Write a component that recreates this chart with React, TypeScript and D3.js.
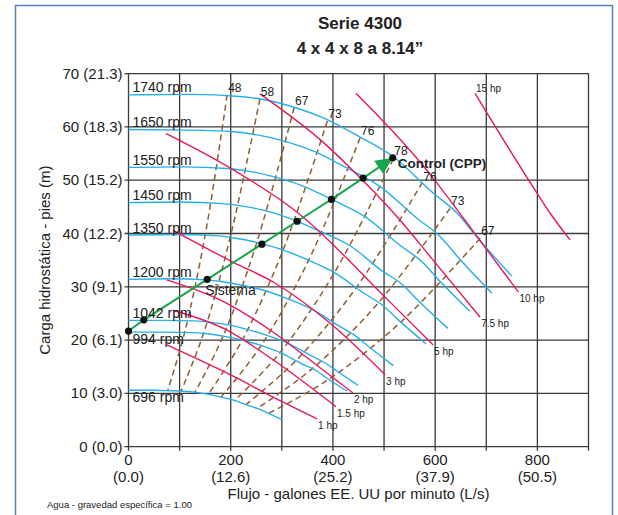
import React from 'react';
import * as d3 from 'd3';

// axis ticks
const flowTicks = [0, 200, 400, 600, 800];
const flowTicksLs = ['(0.0)', '(12.6)', '(25.2)', '(37.9)', '(50.5)'];
const flowGrid = [0, 100, 200, 300, 400, 500, 600, 700, 800, 900];
const headTicks = [0, 10, 20, 30, 40, 50, 60, 70];
const headTicksM = ['(0.0)', '(3.0)', '(6.1)', '(9.1)', '(12.2)', '(15.2)', '(18.3)', '(21.3)'];

// pump curves, [gpm, ft]
const rpm1740 = [[0, 66.0], [120, 66.1], [218, 65.7], [271, 65.0], [330, 63.5], [381, 61.7], [453, 58.1], [518, 54.4], [596, 47.6], [643, 43.8], [682, 39.3], [750, 32.0]];
const rpm1650 = [[0, 59.5], [114, 59.4], [207, 59.1], [257, 58.4], [313, 57.1], [361, 55.5], [429, 52.2], [491, 48.9], [565, 42.8], [610, 39.4], [647, 35.3], [711, 28.8]];
const rpm1550 = [[0, 52.4], [107, 52.5], [194, 52.2], [241, 51.6], [294, 50.4], [339, 49.0], [404, 46.1], [462, 43.2], [531, 37.8], [573, 34.8], [608, 31.2], [668, 25.4]];
const rpm1450 = [[0, 45.8], [100, 45.9], [182, 45.6], [226, 45.1], [275, 44.1], [317, 42.8], [377, 40.3], [432, 37.8], [496, 33.0], [536, 30.4], [568, 27.3], [625, 22.2]];
const rpm1350 = [[0, 39.7], [93, 39.8], [169, 39.6], [210, 39.1], [256, 38.2], [296, 37.1], [352, 35.0], [402, 32.7], [462, 28.7], [499, 26.4], [529, 23.7], [582, 19.3]];
const rpm1200 = [[0, 31.4], [83, 31.5], [150, 31.3], [187, 30.9], [228, 30.2], [263, 29.4], [313, 27.7], [357, 25.9], [411, 22.7], [444, 20.8], [471, 18.7], [518, 15.2]];
const rpm1042 = [[0, 23.7], [72, 23.7], [131, 23.6], [162, 23.3], [198, 22.8], [228, 22.1], [271, 20.9], [310, 19.5], [357, 17.1], [385, 15.7], [409, 14.1], [449, 11.5]];
const rpm994 = [[0, 21.5], [69, 21.5], [124, 21.4], [155, 21.2], [188, 20.7], [218, 20.1], [259, 19.0], [296, 17.7], [340, 15.5], [367, 14.3], [389, 12.8], [428, 10.4]];
const rpm696 = [[0, 10.6], [48, 10.6], [87, 10.5], [108, 10.4], [132, 10.2], [152, 9.9], [181, 9.3], [207, 8.7], [238, 7.6], [257, 7.0], [273, 6.3], [300, 5.1]];
const speedNames = ['1740 rpm', '1650 rpm', '1550 rpm', '1450 rpm', '1350 rpm', '1200 rpm', '1042 rpm', '994 rpm', '696 rpm'];

// horsepower lines
const hp1 = [[75, 19.1], [199, 13.5], [287, 9.1], [369, 5.2]];
const hp15 = [[87, 25.6], [190, 22.0], [280, 16.5], [406, 7.5]];
const hp2 = [[75, 31.3], [180, 27.5], [277, 21.9], [360, 15.9], [439, 10.1]];
const hp3 = [[87, 40.6], [205, 34.6], [283, 30.9], [394, 23.2], [502, 13.5]];
const hp5 = [[73, 58.8], [199, 52.3], [330, 44.0], [508, 27.5], [596, 19.1]];
const hp75 = [[257, 66.2], [381, 57.1], [434, 52.3], [526, 43.1], [596, 35.0], [688, 24.3]];
const hp10 = [[445, 66.3], [596, 50.4], [655, 42.9], [763, 29.0]];
const hp15b = [[678, 66.3], [799, 47.6], [825, 43.8], [864, 38.8]];
const hpNames = ['1 hp', '1.5 hp', '2 hp', '3 hp', '5 hp', '7.5 hp', '10 hp', '15 hp'];

// efficiency (%) lines, top point on the 1740 curve
const eff48 = [[193, 66.0], [150, 39.7], [110, 21.5], [77, 10.6]];
const eff58 = [[257, 65.2], [199, 39.3], [147, 21.3], [103, 10.4]];
const eff67 = [[324, 63.6], [251, 38.3], [185, 20.7], [130, 10.2]];
const eff73 = [[389, 61.1], [302, 36.8], [222, 19.9], [156, 9.8]];
const eff76 = [[453, 57.9], [352, 34.9], [259, 18.9], [181, 9.3]];
const eff78 = [[518, 54.0], [402, 32.5], [296, 17.6], [207, 8.6]];
const eff76b = [[575, 49.6], [446, 29.9], [328, 16.2], [230, 7.9]];
const eff73b = [[629, 44.7], [488, 26.9], [359, 14.6], [252, 7.2]];
const eff67b = [[688, 39.1], [534, 23.5], [393, 12.7], [275, 6.3]];
const effNames = ['48', '58', '67', '73', '76', '78', '76', '73', '67'];

// system curve
const sistema = [[0, 21.7], [30, 23.8], [154, 31.4], [261, 38.0], [330, 42.3], [397, 46.4], [459, 50.4], [517, 54.2]];

const W = 618, H = 515;
const FONT = '"Liberation Sans", Arial, Helvetica, sans-serif';
const BLUE = '#24afe8', RED = '#e8185a', BROWN = '#8c5e30', GREEN = '#17a64b', GRID = '#3a3a3a';

export default function App() {
  const x = d3.scaleLinear().domain([0, 900]).range([128.5, 588.5]);
  const y = d3.scaleLinear().domain([0, 70]).range([446.7, 73.6]);
  const line = d3.line<number[]>().x(d => x(d[0])).y(d => y(d[1])).curve(d3.curveMonotoneX);
  const effLine = d3.line<number[]>().x(d => x(d[0])).y(d => y(d[1])).curve(d3.curveCatmullRom);
  const poly = d3.line<number[]>().x(d => x(d[0])).y(d => y(d[1]));

  const pumps = [rpm1740, rpm1650, rpm1550, rpm1450, rpm1350, rpm1200, rpm1042, rpm994, rpm696];
  const hps = [hp1, hp15, hp2, hp3, hp5, hp75, hp10, hp15b];
  const effs = [eff48, eff58, eff67, eff73, eff76, eff78, eff76b, eff73b, eff67b];

  // arrow at end of system curve
  const tip = sistema[sistema.length - 1];
  const prev = sistema[sistema.length - 2];
  const tx = x(tip[0]), ty = y(tip[1]);
  const ang = Math.atan2(ty - y(prev[1]), tx - x(prev[0]));
  const ux = Math.cos(ang), uy = Math.sin(ang);
  const bx = tx - 17 * ux, by = ty - 17 * uy;
  const arrow = `M${tx},${ty}L${bx - 8 * uy},${by + 8 * ux}L${bx + 8 * uy},${by - 8 * ux}Z`;

  return (
    <svg width={W} height={H} style={{ position: 'absolute', left: 0, top: 0, background: '#fff' }} fontFamily={FONT}>
      <rect x={15.5} y={5.5} width={597} height={540} fill="none" stroke="#5a80b8" strokeWidth={1.5} />

      <text x={360} y={29} textAnchor="middle" fontSize={17} fontWeight="bold" fill="#222">Serie 4300</text>
      <text x={360} y={54} textAnchor="middle" fontSize={17} fontWeight="bold" fill="#222">4 x 4 x 8 a 8.14”</text>

      {/* grid */}
      <g stroke={GRID} strokeWidth={1.3}>
        {flowGrid.map(v => <line key={'vx' + v} x1={x(v)} x2={x(v)} y1={y(70)} y2={y(0) + 4} />)}
        {headTicks.map(v => <line key={'hy' + v} x1={x(0) - 4} x2={x(900)} y1={y(v)} y2={y(v)} />)}
      </g>

      {/* efficiency lines */}
      <g fill="none" stroke={BROWN} strokeWidth={1.5} strokeDasharray="6,4">
        {effs.map((d, i) => <path key={'e' + i} d={effLine(d) || ''} />)}
      </g>

      {/* pump curves */}
      <g fill="none" stroke={BLUE} strokeWidth={1.4}>
        {pumps.map((d, i) => <path key={'p' + i} d={line(d) || ''} />)}
      </g>

      {/* hp lines */}
      <g fill="none" stroke={RED} strokeWidth={1.4}>
        {hps.map((d, i) => <path key={'h' + i} d={line(d) || ''} />)}
      </g>

      {/* system curve */}
      <path d={poly(sistema) || ''} fill="none" stroke={GREEN} strokeWidth={2} />
      <path d={arrow} fill={GREEN} />
      {sistema.map((d, i) => <circle key={'s' + i} cx={x(d[0])} cy={y(d[1])} r={3.6} fill="#111" />)}

      {/* labels */}
      <g fontSize={14} fill="#222">
        {pumps.map((d, i) => (
          <text key={'pl' + i} x={x(0) + 4} y={i < 7 ? y(d[0][1]) - 2.5 : y(d[0][1]) + 12}>{speedNames[i]}</text>
        ))}
      </g>
      <g fontSize={10} fill="#222">
        {hps.map((d, i) => {
          const p = i === 7 ? d[0] : d[d.length - 1];
          return <text key={'hl' + i} x={x(p[0]) + 1} y={i === 7 ? y(p[1]) - 1 : y(p[1]) + 10}>{hpNames[i]}</text>;
        })}
      </g>
      <g fontSize={12} fill="#222">
        {effs.map((d, i) => <text key={'el' + i} x={x(d[0][0]) + 1} y={y(d[0][1]) - (i === 5 ? 4 : i === 6 ? 1 : 3)}>{effNames[i]}</text>)}
      </g>
      <text x={tx + 5} y={ty + 10.5} fontSize={13.5} fontWeight="bold" fill="#222">Control (CPP)</text>
      <text x={x(sistema[2][0]) - 2} y={y(sistema[2][1]) + 16} fontSize={14} fill="#222">Sistema</text>

      {/* y axis labels */}
      <g fontSize={15} fill="#222" textAnchor="end">
        {headTicks.map((v, i) => <text key={'yt' + v} x={x(0) - 6} y={y(v) + 5}>{`${v} ${headTicksM[i]}`}</text>)}
      </g>
      <text transform={`translate(50,${(y(0) + y(70)) / 2}) rotate(-90)`} textAnchor="middle" fontSize={15} fill="#222">Carga hidrostática - pies (m)</text>

      {/* x axis labels */}
      <g fontSize={15} fill="#222" textAnchor="middle">
        {flowTicks.map((v, i) => (
          <g key={'xt' + v}>
            <text x={x(v)} y={465}>{v}</text>
            <text x={x(v)} y={482}>{flowTicksLs[i]}</text>
          </g>
        ))}
      </g>
      <text x={(x(0) + x(900)) / 2} y={499} textAnchor="middle" fontSize={15} fill="#222">Flujo - galones EE. UU por minuto (L/s)</text>
      <text x={47} y={508} fontSize={9.5} fill="#222">Agua - gravedad específica = 1.00</text>
    </svg>
  );
}
